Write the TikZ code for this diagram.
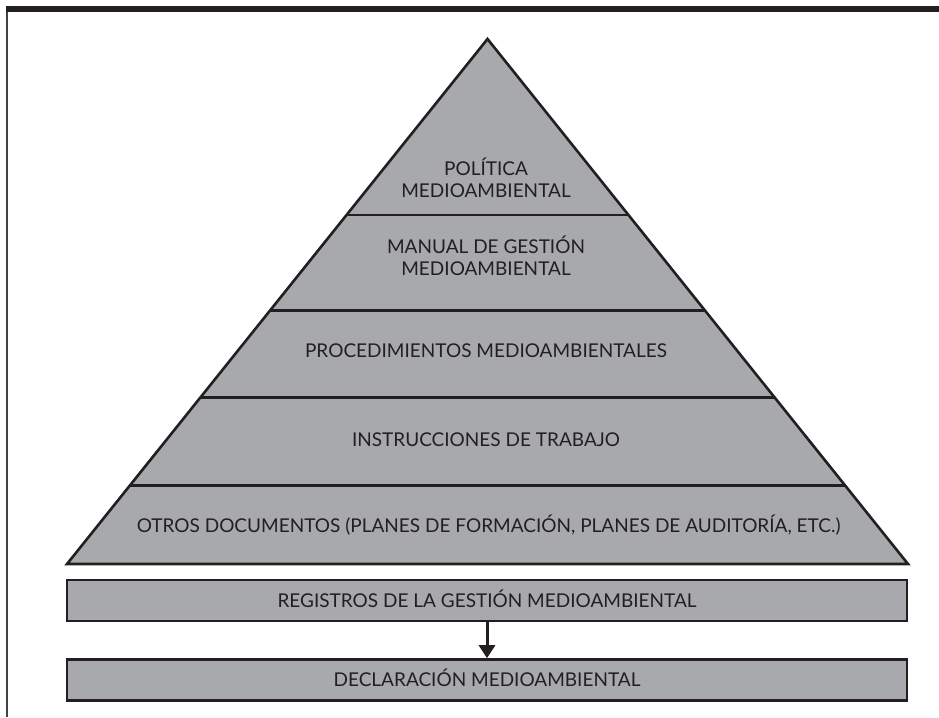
\documentclass[tikz,border=0pt]{standalone}
\usepackage{fontspec}
\setmainfont{Lato}
\usetikzlibrary{arrows.meta,calc}
\definecolor{pgrey}{HTML}{A7A9AC}
\definecolor{ink}{HTML}{231F20}
\newcommand{\lblfont}{\fontsize{19}{22}\selectfont}
\begin{document}
\begin{tikzpicture}[x=1pt,y=-1pt,
  lbl/.style={anchor=base,inner sep=0pt,text=ink,font=\lblfont},
  tier/.style={draw=ink,line width=2.6pt},
  band/.style={draw=ink,fill=pgrey,line width=2.6pt,minimum width=840pt,minimum height=41pt,
    inner sep=0pt,text height=13.5pt,text depth=0pt,font=\lblfont,text=ink}]
\useasboundingbox (0,0) rectangle (939,717);
% frame
\fill[ink] (6,6) rectangle (939,12.5);
\draw[line width=2pt,color=ink!85] (7,12) -- (7,717);
% pyramid
\coordinate (apex) at (487.5,39);
\coordinate (bl) at (67,564);
\coordinate (br) at (908,564);
\filldraw[fill=pgrey,draw=ink,line width=2.6pt,line join=miter] (apex) -- (br) -- (bl) -- cycle;
\coordinate (l1) at ($(bl)!0.6648!(apex)$);
\coordinate (r1) at ($(br)!0.6648!(apex)$);
\coordinate (l2) at ($(bl)!0.4825!(apex)$);
\coordinate (r2) at ($(br)!0.4825!(apex)$);
\coordinate (l3) at ($(bl)!0.3168!(apex)$);
\coordinate (r3) at ($(br)!0.3168!(apex)$);
\coordinate (l4) at ($(bl)!0.1491!(apex)$);
\coordinate (r4) at ($(br)!0.1491!(apex)$);
\draw[tier] (l1) -- (r1);
\draw[tier] (l2) -- (r2);
\draw[tier] (l3) -- (r3);
\draw[tier] (l4) -- (r4);
% labels
\node[lbl] (pol1) at (486,175.7) {POLÍTICA};
\node[lbl] (pol2) at (486,197.3) {MEDIOAMBIENTAL};
\node[lbl] (man1) at (486,253.3) {MANUAL DE GESTIÓN};
\node[lbl] (man2) at (486,275) {MEDIOAMBIENTAL};
\node[lbl] (proc) at (486,357.7) {PROCEDIMIENTOS MEDIOAMBIENTALES};
\node[lbl] (inst) at (486,446.5) {INSTRUCCIONES DE TRABAJO};
\node[lbl] (otros) at (488.5,532) {OTROS DOCUMENTOS (PLANES DE FORMACIÓN, PLANES DE AUDITORÍA, ETC.)};
% boxes
\node[band] (reg) at (487,600.5) {REGISTROS DE LA GESTIÓN MEDIOAMBIENTAL};
\node[band] (decl) at (487,680) {DECLARACIÓN MEDIOAMBIENTAL};
\draw[ink,line width=3pt,-{Triangle[length=13pt,width=16pt]}] (reg.south) -- (decl.north);
\end{tikzpicture}
\end{document}
